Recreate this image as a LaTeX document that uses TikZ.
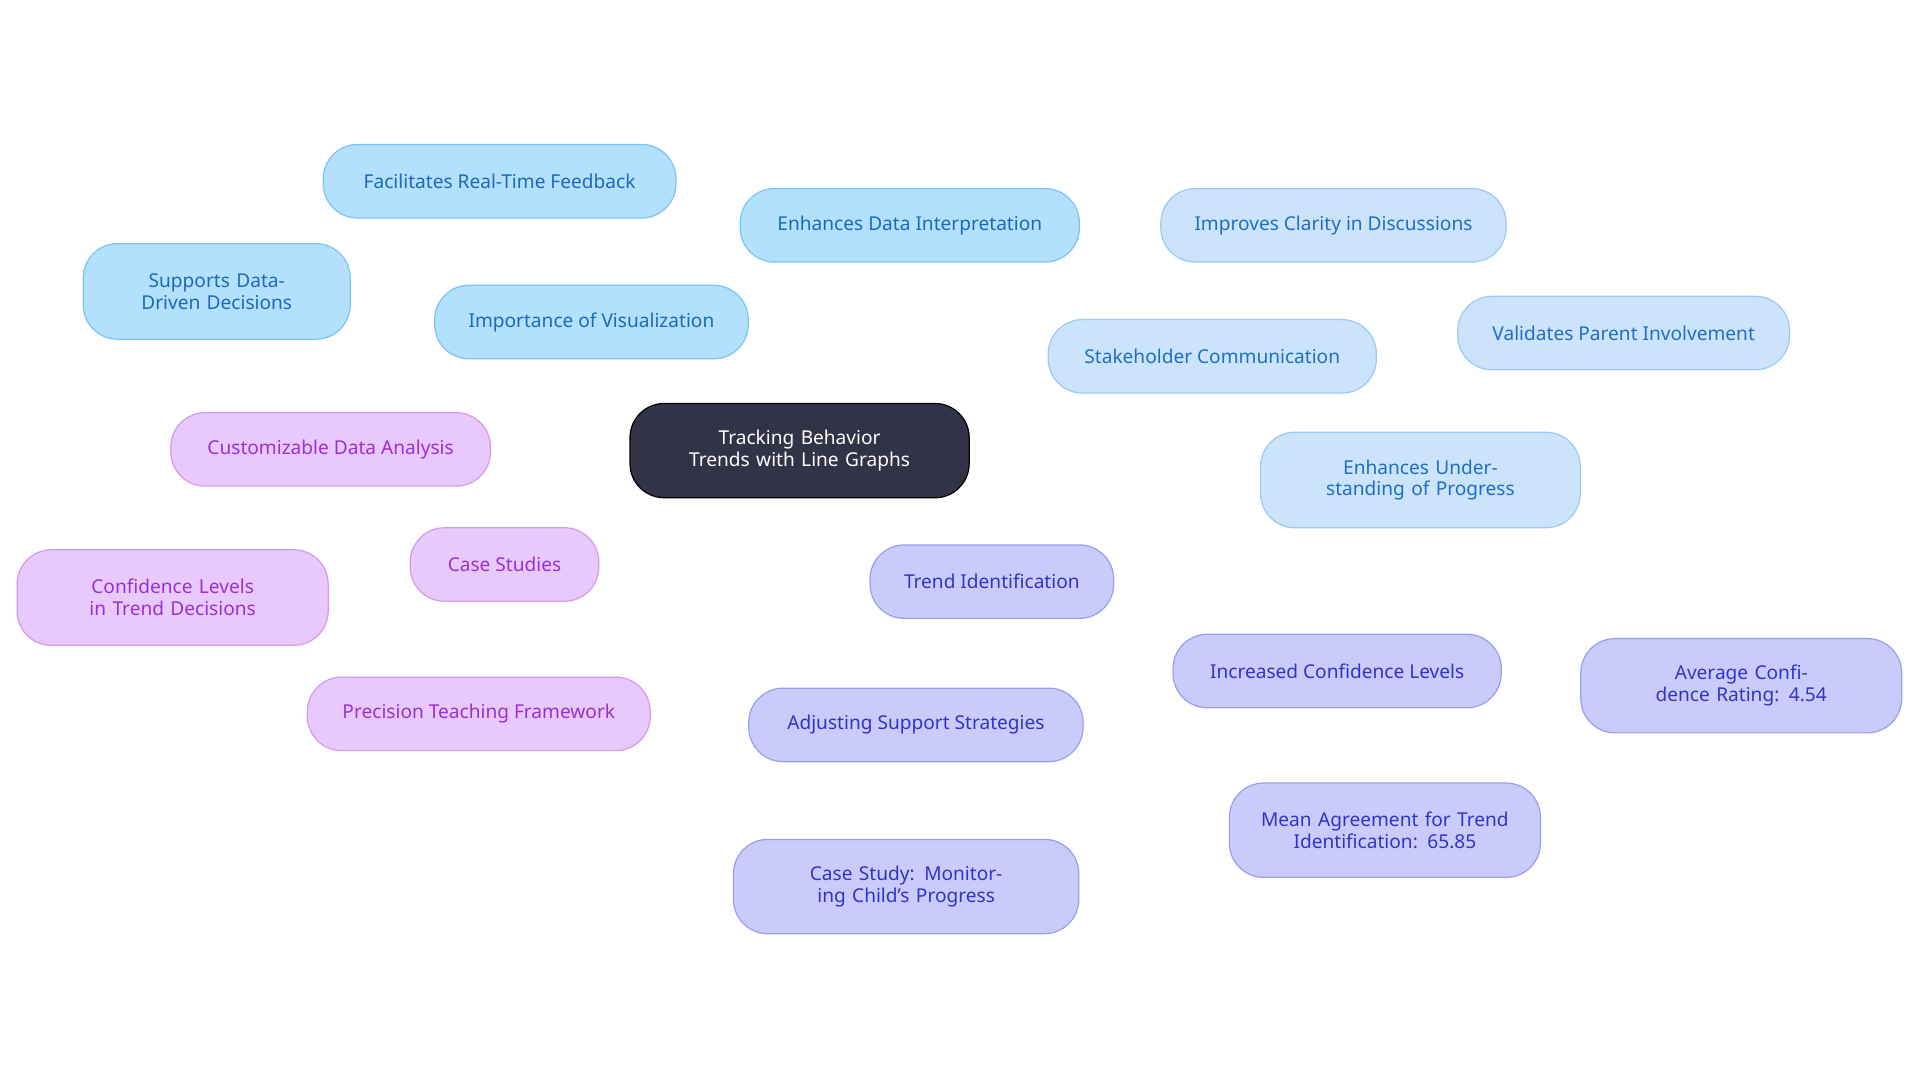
\documentclass[tikz,border=0pt]{standalone}
\usepackage{fontspec}
\setmainfont{Noto Sans}
\usetikzlibrary{backgrounds}
\definecolor{bA}{HTML}{B3E0FD}\definecolor{bAs}{HTML}{7CC4F5}\definecolor{bAt}{HTML}{1A6BBF}
\definecolor{bB}{HTML}{CCE3FC}\definecolor{bBs}{HTML}{9CCAF5}\definecolor{bBt}{HTML}{1E6FC8}
\definecolor{bC}{HTML}{C9CBFB}\definecolor{bCs}{HTML}{9A9EF0}\definecolor{bCt}{HTML}{3333CC}
\definecolor{bD}{HTML}{E8C9FB}\definecolor{bDs}{HTML}{D39AF0}\definecolor{bDt}{HTML}{9B30D9}
\tikzset{
 box/.style={rounded corners=14pt,draw,line width=0.5pt,align=center,inner sep=0pt,font=\fontsize{7.8}{8.8}\selectfont},
 bxA/.style={box,fill=bA,draw=bAs,text=bAt},
 bxB/.style={box,fill=bB,draw=bBs,text=bBt},
 bxC/.style={box,fill=bC,draw=bCs,text=bCt},
 bxD/.style={box,fill=bD,draw=bDs,text=bDt},
 eA/.style={draw=bAs,line width=1pt},
 eB/.style={draw=bBs,line width=1pt},
 eC/.style={draw=bCs,line width=1pt},
 eD/.style={draw=bDs,line width=1pt},
}
\newcommand{\bx}[6]{\node[#1,minimum width=#4*0.5pt,minimum height=#5*0.5pt] (#6) at (#2,#3) {\parbox{#4*0.4pt}{\centering #6txt}};}
\begin{document}
\begin{tikzpicture}[x=0.5pt,y=-0.5pt]
\fill[white] (0,0) rectangle (1568,884);
\node[box,fill=black!90!blue!80,draw=black,text=white,minimum width=138.5pt,minimum height=38.5pt,text width=115pt] (r) at (653,368) {Tracking Behavior Trends with Line Graphs};
\node[bxA,minimum width=128pt,minimum height=30pt] (iv) at (483,263) {Importance of Visualization};
\node[bxA,minimum width=144pt,minimum height=30pt] (fr) at (408,148) {Facilitates Real-Time Feedback};
\node[bxA,minimum width=138.5pt,minimum height=30pt] (ed) at (743,184) {Enhances Data Interpretation};
\node[bxA,minimum width=109pt,minimum height=39pt,text width=95pt] (sd) at (177,238) {Supports Data-Driven Decisions};
\node[bxB,minimum width=134pt,minimum height=30pt] (sc) at (990,291) {Stakeholder Communication};
\node[bxB,minimum width=141pt,minimum height=30pt] (ic) at (1089,184) {Improves Clarity in Discussions};
\node[bxB,minimum width=135.5pt,minimum height=30pt] (vp) at (1326,272) {Validates Parent Involvement};
\node[bxB,minimum width=130.5pt,minimum height=39pt,text width=110pt] (eu) at (1160,392) {Enhances Understanding of Progress};
\node[bxC,minimum width=99.5pt,minimum height=30pt] (ti) at (810,475) {Trend Identification};
\node[bxC,minimum width=134pt,minimum height=30pt] (cl) at (1092,548) {Increased Confidence Levels};
\node[bxC,minimum width=131pt,minimum height=38.5pt,text width=115pt] (ac) at (1422,560) {Average Confidence Rating: 4.54};
\node[bxC,minimum width=127pt,minimum height=38.5pt,text width=110pt] (ma) at (1131,678) {Mean Agreement for Trend Identification: 65.85};
\node[bxC,minimum width=136.5pt,minimum height=30pt] (as) at (748,592) {Adjusting Support Strategies};
\node[bxC,minimum width=141pt,minimum height=38.5pt,text width=118pt] (cs) at (740,724) {Case Study: Monitoring Child's Progress};
\node[bxD,minimum width=77pt,minimum height=30pt] (cst) at (412,461) {Case Studies};
\node[bxD,minimum width=130.5pt,minimum height=30pt] (cd) at (270,367) {Customizable Data Analysis};
\node[bxD,minimum width=127pt,minimum height=39pt,text width=108pt] (ct) at (141,488) {Confidence Levels in Trend Decisions};
\node[bxD,minimum width=140pt,minimum height=30pt] (pt) at (391,583) {Precision Teaching Framework};
\begin{scope}[on background layer]
\draw[eA] (r) -- (iv); \draw[eA] (iv) -- (fr); \draw[eA] (iv) -- (ed); \draw[eA] (iv) -- (sd);
\draw[eB] (r) -- (sc); \draw[eB] (sc) -- (ic); \draw[eB] (sc) -- (vp); \draw[eB] (sc) -- (eu);
\draw[eC] (r) -- (ti); \draw[eC] (ti) -- (cl); \draw[eC] (cl) -- (ac); \draw[eC] (cl) -- (ma); \draw[eC] (ti) -- (as); \draw[eC] (as) -- (cs);
\draw[eD] (r) -- (cst); \draw[eD] (cst) -- (cd); \draw[eD] (cst) -- (ct); \draw[eD] (cst) -- (pt);
\end{scope}
\end{tikzpicture}
\end{document}
